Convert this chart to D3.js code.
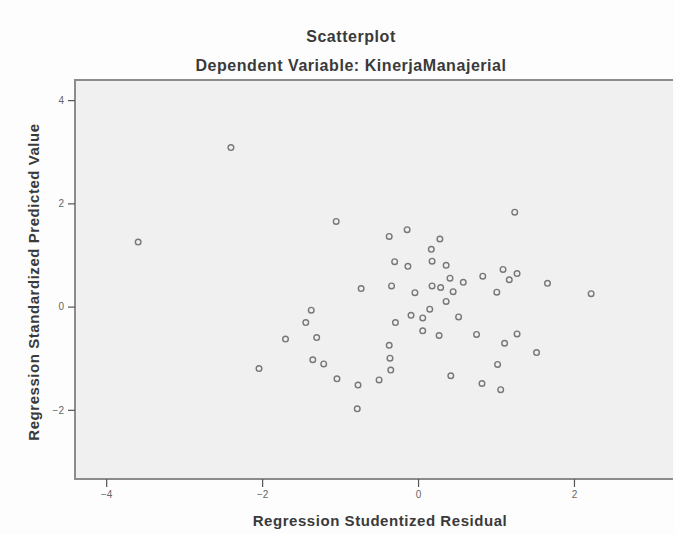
<!DOCTYPE html>
<html>
<head>
<meta charset="utf-8">
<script src="https://cdn.jsdelivr.net/npm/d3@7"></script>
<style>
  body { margin: 0; background: #fdfdfd; }
  text { font-family: "Liberation Sans", Arial, sans-serif; }
</style>
</head>
<body>
<svg id="chart"></svg>
<script>
// Regression Studentized Residual (x) / Regression Standardized Predicted Value (y)
const residuals = [
  -2.40, -3.59, -1.05, -0.37, -0.14, 0.28, 0.17, -0.30, -0.13, 0.18,
  0.36, 0.41, -0.73, -0.34, -0.04, 0.18, 0.29, 0.45, 0.36, 0.15,
  -1.37, -0.09, 0.06, 0.52, -1.44, -1.70, -1.30, -2.04, -1.35, -1.21,
  -1.04, -0.77, -0.78, -0.50, -0.37, -0.36, -0.35, -0.29, 0.06, 0.27,
  0.42, 1.24, 0.58, 0.83, 1.09, 1.27, 1.17, 1.66, 2.22, 1.01,
  0.75, 1.11, 1.27, 1.52, 1.02, 0.82, 1.06
];
const predicted = [
  3.08, 1.25, 1.65, 1.36, 1.49, 1.31, 1.11, 0.87, 0.78, 0.88,
  0.80, 0.55, 0.35, 0.40, 0.27, 0.40, 0.37, 0.29, 0.10, -0.05,
  -0.07, -0.17, -0.22, -0.20, -0.31, -0.63, -0.60, -1.20, -1.03, -1.11,
  -1.40, -1.52, -1.98, -1.42, -0.75, -1.00, -1.23, -0.31, -0.47, -0.56,
  -1.34, 1.83, 0.47, 0.59, 0.72, 0.64, 0.52, 0.45, 0.25, 0.28,
  -0.54, -0.71, -0.53, -0.89, -1.12, -1.49, -1.61
];
const xTicks = [-4, -2, 0, 2];
const yTicks = [-2, 0, 2, 4];

const width = 675;
const height = 534;
const plot = {left: 75, right: 673, top: 80, bottom: 479};

const svg = d3.select('#chart')
  .attr('width', width)
  .attr('height', height);

const points = residuals.map((r, i) => ({x: r, y: predicted[i]}));

const xScale = d3.scaleLinear()
  .domain([-4.4, 3.27])
  .range([plot.left, plot.right]);

const yScale = d3.scaleLinear()
  .domain([-3.34, 4.39])
  .range([plot.bottom, plot.top]);

// plot background
svg.append('rect')
  .attr('x', plot.left)
  .attr('y', plot.top)
  .attr('width', plot.right - plot.left)
  .attr('height', plot.bottom - plot.top)
  .attr('fill', '#f0f0f0');

// frame: top, left, bottom
svg.append('path')
  .attr('d', `M${plot.right},${plot.top}H${plot.left}V${plot.bottom}H${plot.right}`)
  .attr('fill', 'none')
  .attr('stroke', '#8c8c8c')
  .attr('stroke-width', 2);

const xAxis = svg.append('g')
  .attr('transform', `translate(0, ${plot.bottom})`)
  .call(d3.axisBottom(xScale).tickValues(xTicks).tickSize(8).tickPadding(4));

const yAxis = svg.append('g')
  .attr('transform', `translate(${plot.left}, 0)`)
  .call(d3.axisLeft(yScale).tickValues(yTicks).tickSize(7).tickPadding(4));

[xAxis, yAxis].forEach(axis => {
  axis.select('.domain').remove();
  axis.selectAll('line').attr('stroke', '#555').attr('stroke-width', 1.2);
  axis.selectAll('text')
    .attr('fill', '#666')
    .style('font-size', '10px');
});

svg.append('g')
  .selectAll('circle')
  .data(points)
  .enter()
  .append('circle')
  .attr('cx', d => xScale(d.x))
  .attr('cy', d => yScale(d.y))
  .attr('r', 2.8)
  .attr('fill', 'none')
  .attr('stroke', '#777')
  .attr('stroke-width', 1.4);

// titles
const addTitle = (x, y, size, label) => svg.append('text')
  .attr('x', x)
  .attr('y', y)
  .attr('text-anchor', 'middle')
  .attr('font-weight', 'bold')
  .attr('fill', '#3a3a3a')
  .style('font-size', size)
  .style('letter-spacing', '0.55px')
  .text(label);

addTitle(351, 42, '16px', 'Scatterplot');
addTitle(351, 71, '16px', 'Dependent Variable: KinerjaManajerial');
addTitle(380, 526, '15px', 'Regression Studentized Residual');

const yLabelX = 39;
const yLabelY = 282;
addTitle(yLabelX, yLabelY, '15px', 'Regression Standardized Predicted Value')
  .attr('transform', `rotate(-90, ${yLabelX}, ${yLabelY})`);
</script>
</body>
</html>
